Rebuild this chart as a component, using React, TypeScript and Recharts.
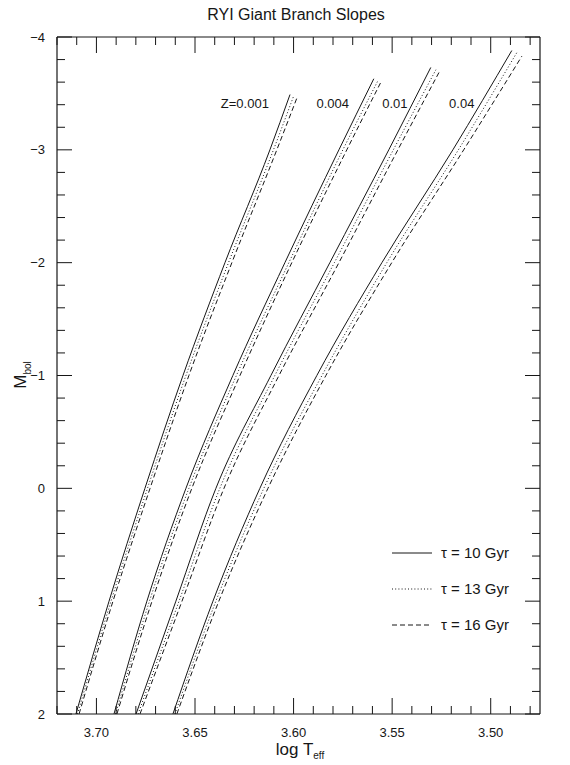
import React from 'react';
import { LineChart, Line, XAxis, YAxis, ReferenceDot } from 'recharts';

// Mbol levels (last value of each series is its tip)
const mbolGrid = [2, 1, 0, -1, -2, -3];

// log Teff values at the Mbol grid, then at the tip
const z0001Age10 = [3.7104, 3.6936, 3.6754, 3.6561, 3.6348, 3.612, 3.6018];
const z0001Age13 = [3.7096, 3.6926, 3.6741, 3.6546, 3.633, 3.6102, 3.6001];
const z0001Age16 = [3.7088, 3.6916, 3.6728, 3.6531, 3.6313, 3.6085, 3.5983];
const z0001Tips = [-3.49, -3.47, -3.46];

const z0004Age10 = [3.6911, 3.6744, 3.6546, 3.6308, 3.6044, 3.577, 3.5593];
const z0004Age13 = [3.6903, 3.6731, 3.6531, 3.629, 3.6024, 3.575, 3.5573];
const z0004Age16 = [3.6896, 3.6718, 3.6516, 3.6272, 3.6009, 3.573, 3.5557];
const z0004Tips = [-3.63, -3.61, -3.6];

const z001Age10 = [3.6799, 3.6597, 3.6394, 3.6115, 3.5816, 3.5517, 3.5304];
const z001Age13 = [3.6789, 3.6581, 3.6374, 3.6095, 3.5793, 3.5494, 3.5278];
const z001Age16 = [3.6779, 3.6566, 3.6353, 3.6074, 3.577, 3.5471, 3.5258];
const z001Tips = [-3.73, -3.71, -3.7];

const z004Age10 = [3.6612, 3.6409, 3.6171, 3.5882, 3.5552, 3.5192, 3.4893];
const z004Age13 = [3.6602, 3.6394, 3.6151, 3.5856, 3.5527, 3.5164, 3.4868];
const z004Age16 = [3.6592, 3.6379, 3.613, 3.5836, 3.5502, 3.5137, 3.4842];
const z004Tips = [-3.88, -3.86, -3.83];

const ages = ['10', '13', '16'];
const dashes: (string | undefined)[] = [undefined, '1 2.2', '5 3'];

const zLabels = ['Z=0.001', '0.004', '0.01', '0.04'];
const zLabelTeff = [3.6247, 3.5801, 3.5486, 3.5147];
const zLabelMbol = -3.415;

const xTicks = [
  3.48, 3.49, 3.5, 3.51, 3.52, 3.53, 3.54, 3.55, 3.56, 3.57, 3.58, 3.59, 3.6,
  3.61, 3.62, 3.63, 3.64, 3.65, 3.66, 3.67, 3.68, 3.69, 3.7, 3.71, 3.72,
];
const yTicks = [
  -4, -3.8, -3.6, -3.4, -3.2, -3, -2.8, -2.6, -2.4, -2.2, -2, -1.8, -1.6, -1.4,
  -1.2, -1, -0.8, -0.6, -0.4, -0.2, 0, 0.2, 0.4, 0.6, 0.8, 1, 1.2, 1.4, 1.6,
  1.8, 2,
];

const groups = [
  { teff: [z0001Age10, z0001Age13, z0001Age16], tips: z0001Tips },
  { teff: [z0004Age10, z0004Age13, z0004Age16], tips: z0004Tips },
  { teff: [z001Age10, z001Age13, z001Age16], tips: z001Tips },
  { teff: [z004Age10, z004Age13, z004Age16], tips: z004Tips },
];

const series = groups.flatMap((g, gi) =>
  g.teff.map((arr, ai) => ({
    key: `g${gi}a${ai}`,
    dash: dashes[ai],
    points: arr.map((t, i) => ({ x: t, y: i < mbolGrid.length ? mbolGrid[i] : g.tips[ai] })),
  }))
);

const FONT = '"Liberation Sans", Arial, Helvetica, sans-serif';
const INK = '#161616';

const isMajorX = (v: number) => Math.abs(v * 20 - Math.round(v * 20)) < 1e-6;
const isMajorY = (v: number) => Math.abs(v - Math.round(v)) < 1e-6;

const BottomTick = (props: any) => {
  const { x, y, payload } = props;
  const v = payload.value as number;
  const major = isMajorX(v);
  return (
    <g>
      <line x1={x} y1={y} x2={x} y2={y - (major ? 16 : 8)} stroke={INK} strokeWidth={1} />
      {major && (
        <text x={x} y={y + 23} textAnchor="middle" fontSize={13} fontFamily={FONT} fill={INK}>
          {v.toFixed(2)}
        </text>
      )}
    </g>
  );
};

const TopTick = (props: any) => {
  const { x, y, payload } = props;
  const major = isMajorX(payload.value);
  return <line x1={x} y1={y} x2={x} y2={y + (major ? 16 : 8)} stroke={INK} strokeWidth={1} />;
};

const LeftTick = (props: any) => {
  const { x, y, payload } = props;
  const v = payload.value as number;
  const major = isMajorY(v);
  const label = v < 0 ? `\u2212${Math.abs(v)}` : `${v}`;
  return (
    <g>
      <line x1={x} y1={y} x2={x + (major ? 15 : 8)} y2={y} stroke={INK} strokeWidth={1} />
      {major && (
        <text x={x - 12} y={y + 4.5} textAnchor="end" fontSize={13} fontFamily={FONT} fill={INK}>
          {label}
        </text>
      )}
    </g>
  );
};

const RightTick = (props: any) => {
  const { x, y, payload } = props;
  const major = isMajorY(payload.value);
  return <line x1={x} y1={y} x2={x - (major ? 15 : 8)} y2={y} stroke={INK} strokeWidth={1} />;
};

const legendItems = ages.map((a, i) => ({ text: `\u03c4 = ${a} Gyr`, dash: dashes[i] }));

export default function App() {
  const axisLine = { stroke: INK, strokeWidth: 1.2 };
  return (
    <div style={{ position: 'relative', width: 554, height: 757, fontFamily: FONT }}>
      <div
        style={{
          position: 'absolute', left: 0, width: 576, top: -2, textAlign: 'center',
          fontSize: 16, color: INK, whiteSpace: 'nowrap',
        }}
      >
        RYI Giant Branch Slopes
      </div>
      <LineChart width={554} height={750} margin={{ top: 28, right: 21, bottom: 0, left: 0 }}>
        <XAxis
          dataKey="x" type="number" domain={[3.475, 3.72]} reversed allowDataOverflow
          ticks={xTicks} interval={0} tickSize={0} tickMargin={0} height={44}
          axisLine={axisLine} tickLine={false} tick={BottomTick}
        />
        <XAxis
          xAxisId="top" orientation="top" dataKey="x" type="number" domain={[3.475, 3.72]}
          reversed allowDataOverflow ticks={xTicks} interval={0} tickSize={0} tickMargin={0}
          height={1} axisLine={axisLine} tickLine={false} tick={TopTick}
        />
        <YAxis
          type="number" domain={[-4, 2]} reversed allowDataOverflow ticks={yTicks} interval={0}
          tickSize={0} tickMargin={0} width={49} axisLine={axisLine} tickLine={false} tick={LeftTick}
        />
        <YAxis
          yAxisId="right" orientation="right" type="number" domain={[-4, 2]} reversed
          allowDataOverflow ticks={yTicks} interval={0} tickSize={0} tickMargin={0} width={1}
          axisLine={axisLine} tickLine={false} tick={RightTick}
        />
        {series.map((s) => (
          <Line
            key={s.key} data={s.points} dataKey="y" type="monotone" dot={false}
            stroke={INK} strokeWidth={1} strokeDasharray={s.dash} isAnimationActive={false}
          />
        ))}
        {zLabels.map((lab, i) => (
          <ReferenceDot
            key={lab} x={zLabelTeff[i]} y={zLabelMbol} r={0} fill="none" stroke="none"
            label={{ value: lab, position: 'center', fontSize: 13, fill: INK, fontFamily: FONT }}
          />
        ))}
      </LineChart>
      <div
        style={{
          position: 'absolute', left: 0, top: 0, width: 28, height: 750,
        }}
      >
        <div
          style={{
            position: 'absolute', left: 14, top: 367, transform: 'translate(-50%, -50%) rotate(-90deg)',
            fontSize: 17, color: INK, whiteSpace: 'nowrap',
          }}
        >
          M<sub style={{ fontSize: 10 }}>bol</sub>
        </div>
      </div>
      <div
        style={{
          position: 'absolute', left: 0, width: 584, top: 733, textAlign: 'center',
          fontSize: 17, lineHeight: '18px', color: INK, whiteSpace: 'nowrap',
        }}
      >
        log T<sub style={{ fontSize: 10, lineHeight: '10px' }}>eff</sub>
      </div>
      <svg
        style={{ position: 'absolute', left: 376, top: 525 }}
        width={160} height={110}
      >
        {legendItems.map((it, i) => (
          <g key={it.text}>
            <line
              x1={8} x2={48} y1={20 + i * 36} y2={20 + i * 36} stroke={INK} strokeWidth={1}
              strokeDasharray={it.dash}
            />
            <text x={57} y={25 + i * 36} fontSize={15} fontFamily={FONT} fill={INK}>
              {it.text}
            </text>
          </g>
        ))}
      </svg>
    </div>
  );
}
